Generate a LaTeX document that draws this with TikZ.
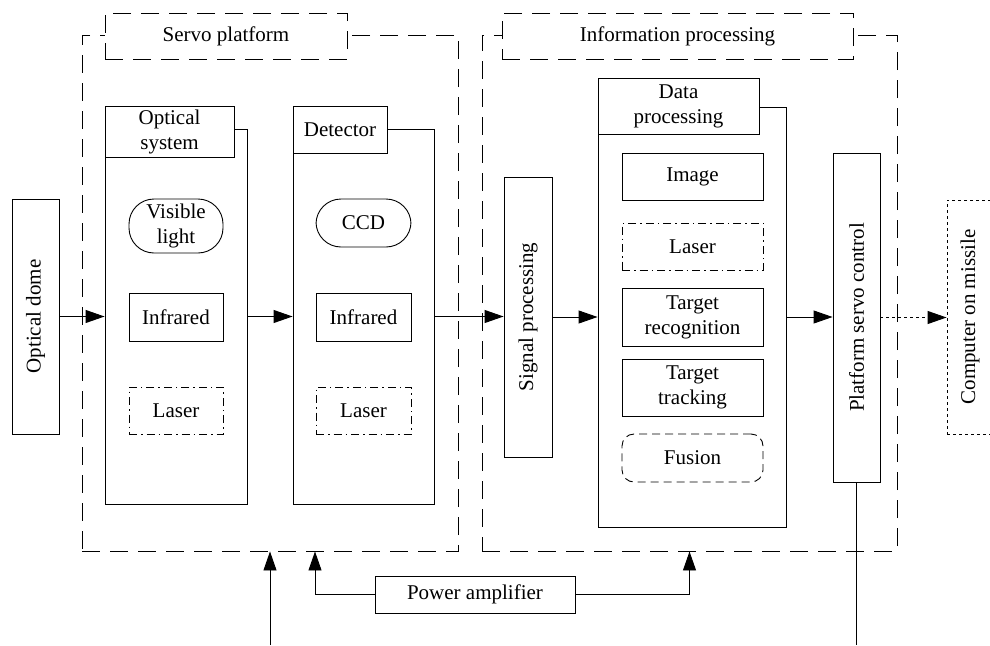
\documentclass[tikz,border=0pt]{standalone}
\usepackage{fontspec}
\setmainfont{Liberation Serif}
\usetikzlibrary{arrows.meta}

\begin{document}
\begin{tikzpicture}[x=1pt,y=-1pt,line width=0.9pt,
  font=\fontsize{21}{25}\selectfont,
  sz/.style 2 args={minimum width=#1,minimum height=#2},
  box/.style={draw,inner sep=0pt,align=center},
  tab/.style={box,fill=white},
  outer/.style={draw,inner sep=0pt,dash pattern=on 18pt off 10pt},
  pill/.style={box,rounded corners=25pt},
  dashdot/.style={box,dash pattern=on 8pt off 4pt on 1.5pt off 4pt},
  soft/.style={box,rounded corners=12pt,dash pattern=on 8pt off 5pt},
  dotbox/.style={box,dash pattern=on 3pt off 3pt},
  arr/.style={-{Triangle[length=19pt,width=13pt]}}]
  \useasboundingbox (0,0) rectangle (990,645);

  % dashed groups
  \node[outer,sz={376}{516}] (servo) at (270,293) {};
  \node[outer,sz={415}{516}] (info) at (689.5,293) {};
  \node[outer,fill=white,sz={242}{46}] (servotab) at (226,36) {Servo platform};
  \node[outer,fill=white,sz={351}{46}] (infotab) at (677.5,36) {Information processing};

  \node[box,sz={47}{235}] (dome) at (35.5,316.5) {\rotatebox{90}{Optical dome}};

  % optical system
  \node[box,sz={142}{375}] (optsys) at (176,316.5) {};
  \node[tab,sz={129}{51}] (optsystab) at (169.5,131.5) {Optical\\system};
  \node[pill,sz={94}{54}] (vis) at (176,226) {Visible\\light};
  \node[box,sz={94}{48}] (ir1) at (176,317) {Infrared};
  \node[dashdot,sz={94}{47}] (las1) at (176,410.5) {Laser};

  % detector
  \node[box,sz={141}{375}] (det) at (363.5,316.5) {};
  \node[tab,sz={94}{47}] (dettab) at (340,129.5) {Detector};
  \node[pill,sz={95}{48}] (ccd) at (363.5,223) {CCD};
  \node[box,sz={95}{48}] (ir2) at (363.5,317) {Infrared};
  \node[dashdot,sz={95}{47}] (las2) at (363.5,410.5) {Laser};

  \node[box,sz={48}{280}] (sig) at (528,317) {\rotatebox{90}{Signal processing}};

  % data processing
  \node[box,sz={188}{420}] (data) at (692,317) {};
  \node[tab,sz={161}{56}] (datatab) at (678.5,106) {Data\\processing};
  \node[box,sz={141}{47}] (img) at (692.5,176.5) {Image};
  \node[dashdot,sz={141}{47}] (las3) at (692.5,246.5) {Laser};
  \node[box,sz={141}{58}] (rec) at (692.5,317) {Target\\recognition};
  \node[box,sz={141}{57}] (trk) at (692.5,387.5) {Target\\tracking};
  \node[soft,sz={141}{48}] (fus) at (692.5,458) {Fusion};

  \node[box,sz={47}{329}] (psc) at (856.5,317.5) {\rotatebox{90}{Platform servo control}};
  \node[dotbox,sz={46}{234}] (comp) at (970,317) {\rotatebox{90}{Computer on missile}};

  \node[box,sz={200}{37}] (pamp) at (475,594.5) {Power amplifier};

  % connectors
  \draw[arr] (dome.east) -- (dome.east -| optsys.west);
  \draw[arr] (optsys.east) -- (optsys.east -| det.west);
  \draw[arr] (det.east) -- (det.east -| sig.west);
  \draw[arr] (sig.east) -- (sig.east -| data.west);
  \draw[arr] (data.east) -- (data.east -| psc.west);
  \draw[arr,dash pattern=on 3pt off 3pt] (psc.east) -- (psc.east -| comp.west);

  \coordinate (bot) at (0,645);
  \draw[arr] (servo.south |- bot) -- (servo.south);
  \draw[arr] (pamp.west) -| ([xshift=45pt]servo.south);
  \draw[arr] (pamp.east) -| (info.south);
  \draw (psc.south) -- (psc.south |- bot);
\end{tikzpicture}
\end{document}
